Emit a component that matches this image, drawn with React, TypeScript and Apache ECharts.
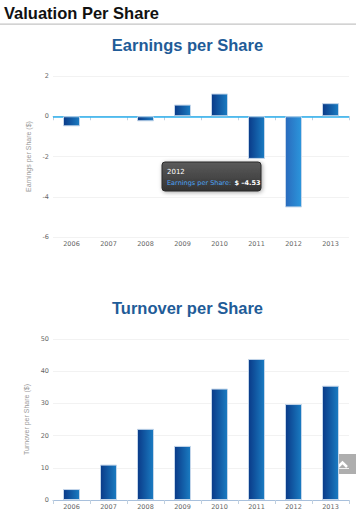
import React, { useEffect, useRef } from "react";
import * as echarts from "echarts";

const categories = ["2006", "2007", "2008", "2009", "2010", "2011", "2012", "2013"];
const epsValues = [-0.5, 0, -0.25, 0.58, 1.13, -2.12, -4.53, 0.65];
const turnoverValues = [3.4, 11.0, 22.1, 16.8, 34.6, 43.8, 29.8, 35.5];
const epsAxis = { min: -6, max: 2, interval: 2 };
const turnoverAxis = { min: 0, max: 50, interval: 10 };
const highlightedCategory = "2012";

const FONT = "'Liberation Sans', Arial, sans-serif";
const TICK_FONT = "'DejaVu Sans', Verdana, sans-serif";

const barGradient = () =>
  new echarts.graphic.LinearGradient(0, 0, 1, 0, [
    { offset: 0, color: "#0a3a88" },
    { offset: 1, color: "#1a7cc2" },
  ]);
const hoverGradient = () =>
  new echarts.graphic.LinearGradient(0, 0, 1, 0, [
    { offset: 0, color: "#2a6bbd" },
    { offset: 1, color: "#2b96dc" },
  ]);

function xAxisFor(gridIndex: number, lineColor: string) {
  return {
    type: "category",
    gridIndex,
    data: categories,
    axisLine: { show: true, lineStyle: { color: lineColor, width: 1 } },
    axisTick: { show: true, length: 4, lineStyle: { color: "#c0d0e0" } },
    axisLabel: { color: "#666", fontSize: 6.5, fontFamily: TICK_FONT, margin: 3 },
    splitLine: { show: false },
  };
}

function yAxisFor(gridIndex: number, name: string, cfg: { min: number; max: number; interval: number }) {
  return {
    type: "value",
    gridIndex,
    min: cfg.min,
    max: cfg.max,
    interval: cfg.interval,
    name,
    nameLocation: "middle",
    nameGap: 20,
    nameTextStyle: { color: "#999", fontSize: 7, fontFamily: FONT },
    axisLine: { show: false },
    axisTick: { show: false },
    axisLabel: { color: "#666", fontSize: 6.5, fontFamily: TICK_FONT, margin: 4 },
    splitLine: { show: true, lineStyle: { color: "#f2f2f2", width: 1 } },
  };
}

function barData(values: number[], highlight: boolean) {
  return values.map((v, i) => {
    const item: any = {
      value: v,
      itemStyle: { color: barGradient(), borderColor: "#c4d6ea", borderWidth: v === 0 ? 0 : 1 },
    };
    if (highlight && categories[i] === highlightedCategory) {
      item.itemStyle = { color: hoverGradient(), borderColor: "#c4d6ea", borderWidth: 1 };
    }
    return item;
  });
}

export default function App() {
  const ref = useRef<HTMLDivElement>(null);

  useEffect(() => {
    if (!ref.current) return;
    const chart = echarts.init(ref.current, undefined, { renderer: "svg" });
    const hiIdx = categories.indexOf(highlightedCategory);
    const hiVal = epsValues[hiIdx];
    chart.setOption({
      animation: false,
      backgroundColor: "#fff",
      grid: [
        { left: 53, width: 296, top: 76, height: 161 },
        { left: 53, width: 296, top: 339, height: 161 },
      ],
      xAxis: [xAxisFor(0, "#c8ccd2"), xAxisFor(1, "#a8c0dc")],
      yAxis: [
        yAxisFor(0, "Earnings per Share ($)", epsAxis),
        yAxisFor(1, "Turnover per Share ($)", turnoverAxis),
      ],
      series: [
        {
          type: "bar",
          xAxisIndex: 0,
          yAxisIndex: 0,
          barWidth: 17,
          z: 3,
          data: barData(epsValues, true),
          markLine: {
            silent: true,
            symbol: "none",
            z: 1,
            label: { show: false },
            lineStyle: { color: "#2cb2f0", width: 1.5, type: "solid" },
            data: [{ yAxis: 0 }],
          },
        },
        {
          type: "bar",
          xAxisIndex: 1,
          yAxisIndex: 1,
          barWidth: 17,
          z: 3,
          data: barData(turnoverValues, false),
        },
      ],
      graphic: [
        {
          type: "text",
          left: 4,
          top: 4,
          style: { text: "Valuation Per Share", fill: "#111", font: `bold 16.5px ${FONT}` },
        },
        {
          type: "rect",
          shape: { x: 0, y: 23.5, width: 356, height: 1.2 },
          style: { fill: "#c4c4c4" },
        },
        {
          type: "text",
          x: 187.5,
          y: 45,
          style: {
            text: "Earnings per Share",
            fill: "#1f5c98",
            font: `bold 16.5px ${FONT}`,
            align: "center",
            verticalAlign: "middle",
          },
        },
        {
          type: "text",
          x: 187.5,
          y: 308,
          style: {
            text: "Turnover per Share",
            fill: "#1f5c98",
            font: `bold 16.5px ${FONT}`,
            align: "center",
            verticalAlign: "middle",
          },
        },
        {
          type: "group",
          x: 162,
          y: 162,
          z: 50,
          children: [
            {
              type: "rect",
              shape: { x: 0, y: 0, width: 99, height: 29, r: 3 },
              style: {
                fill: new echarts.graphic.LinearGradient(0, 0, 0, 1, [
                  { offset: 0, color: "#5c5c5c" },
                  { offset: 1, color: "#333" },
                ]),
                stroke: "#2a2a2a",
                lineWidth: 1,
                shadowBlur: 4,
                shadowOffsetX: 1,
                shadowOffsetY: 1,
                shadowColor: "rgba(0,0,0,0.35)",
              },
            },
            {
              type: "text",
              x: 5,
              y: 9.5,
              style: {
                text: highlightedCategory,
                fill: "#fff",
                font: `7px ${TICK_FONT}`,
                verticalAlign: "middle",
              },
            },
            {
              type: "text",
              x: 5,
              y: 20.5,
              style: {
                text: `{a|Earnings per Share:} {b|$ ${hiVal.toFixed(2).replace("-", "–")}}`,
                verticalAlign: "middle",
                rich: {
                  a: { fill: "#4aa3f5", font: `6.5px ${TICK_FONT}` },
                  b: { fill: "#fff", font: `bold 6.5px ${TICK_FONT}` },
                },
              },
            },
          ],
        },
        {
          type: "group",
          x: 332,
          y: 454,
          z: 50,
          children: [
            {
              type: "rect",
              shape: { x: 0, y: 0, width: 26, height: 20, r: 2 },
              style: { fill: "rgba(160,160,160,0.85)" },
            },
            {
              type: "polyline",
              shape: { points: [[6, 13], [10.5, 8.5], [15, 13]] },
              style: { stroke: "#fff", lineWidth: 2.5, fill: "none" },
            },
          ],
        },
      ],
    });
    return () => chart.dispose();
  }, []);

  return (
    <div
      ref={ref}
      style={{ position: "absolute", left: 0, top: 0, width: 356, height: 512 }}
    />
  );
}
